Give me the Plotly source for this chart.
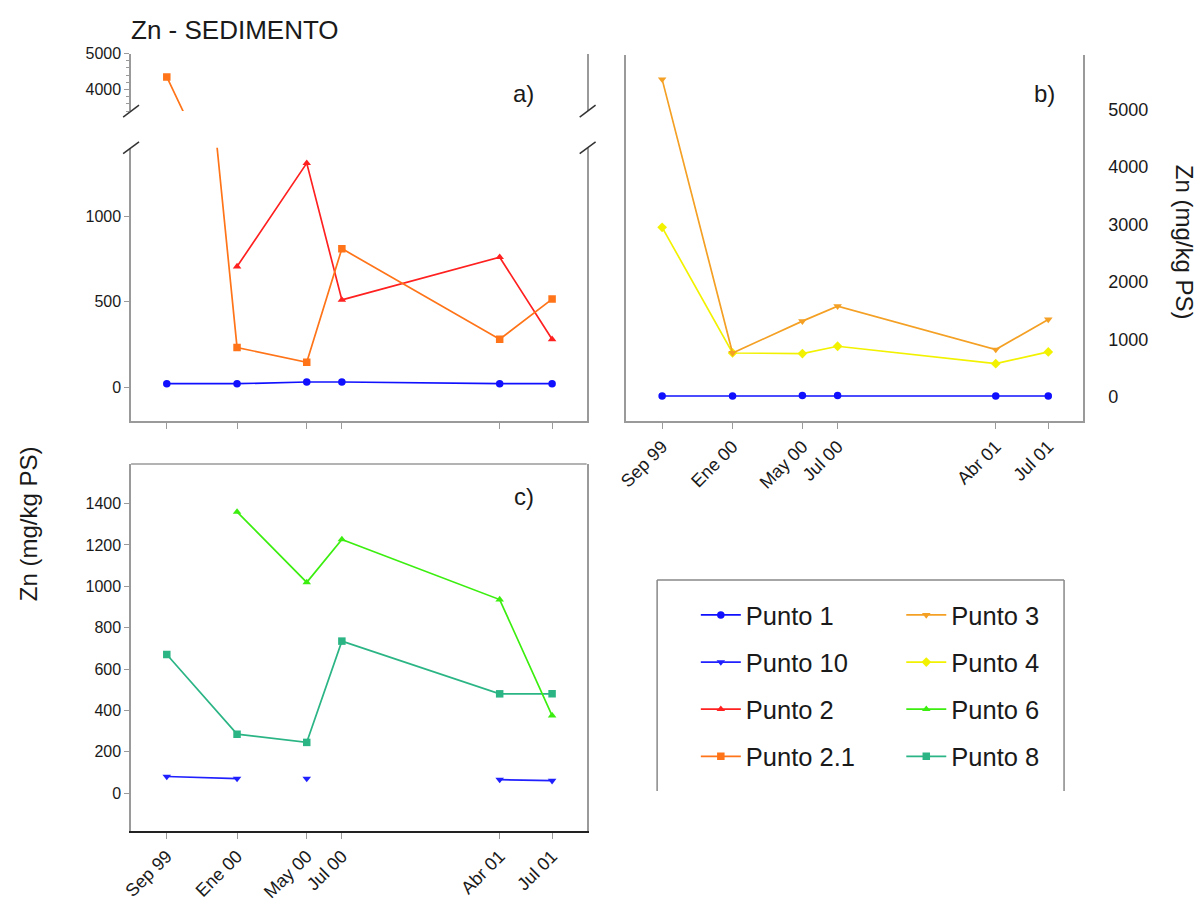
import plotly.graph_objects as go

# Sampling dates and their labels
dates = ["1999-09-01", "2000-01-01", "2000-05-01", "2000-07-01", "2001-04-01", "2001-07-01"]
date_labels = ["Sep 99", "Ene 00", "May 00", "Jul 00", "Abr 01", "Jul 01"]

# Zn in sediment (mg/kg PS) per sampling point
punto_1 = [20, 20, 30, 30, 20, 20]
punto_2 = [None, 705, 1310, 510, 760, 280]
punto_2_1 = [4350, 232, 145, 810, 280, 515]
punto_3 = [5520, 767, 1320, 1580, 826, 1350]
punto_4 = [2950, 767, 756, 884, 581, 785]
punto_6 = [None, 1360, 1019, 1227, 936, 375]
punto_8 = [670, 285, 245, 735, 480, 480]
punto_10 = [80, 70, 70, None, 65, 60]
punto_10_joined = [True, False, False, False, True]

W, H = 1204, 907
FONT = "Arial, Liberation Sans, sans-serif"
AXIS_GREY = "#9a9a9a"
TEXT = "#1a1a1a"


def px(x):
    return x / W


def py(y):
    return 1 - y / H


colors = {
    "p1": "#1010ff",
    "p10": "#2020ff",
    "p2": "#ff2020",
    "p21": "#ff7418",
    "p3": "#f4a024",
    "p4": "#f2f200",
    "p6": "#3cee10",
    "p8": "#2bb585",
}
symbols = {
    "p1": "circle", "p10": "triangle-down", "p2": "triangle-up", "p21": "square",
    "p3": "triangle-down", "p4": "diamond", "p6": "triangle-up", "p8": "square",
}


def series(name, key, y, xa, ya, x=dates):
    return go.Scatter(
        x=x, y=y, name=name, mode="lines+markers",
        line=dict(color=colors[key], width=1.7),
        marker=dict(symbol=symbols[key], size=7.5, color=colors[key]),
        xaxis=xa, yaxis=ya, showlegend=False, connectgaps=False,
    )


# Punto 10 line is only joined between selected consecutive samples
p10_x, p10_y = [], []
for i, d in enumerate(dates):
    p10_x.append(d)
    p10_y.append(punto_10[i])
    if i < len(dates) - 1 and not punto_10_joined[i]:
        p10_x.append(d)
        p10_y.append(None)

fig = go.Figure()

# Panel a (lower and upper parts of the broken axis)
fig.add_trace(series("Punto 1", "p1", punto_1, "x", "y"))
fig.add_trace(series("Punto 2", "p2", punto_2, "x", "y"))
fig.add_trace(series("Punto 2.1", "p21", punto_2_1, "x", "y"))
fig.add_trace(series("Punto 2.1", "p21", punto_2_1, "x2", "y2"))

# Panel b
fig.add_trace(series("Punto 1", "p1", punto_1, "x3", "y3"))
fig.add_trace(series("Punto 4", "p4", punto_4, "x3", "y3"))
fig.add_trace(series("Punto 3", "p3", punto_3, "x3", "y3"))

# Panel c
fig.add_trace(series("Punto 8", "p8", punto_8, "x4", "y4"))
fig.add_trace(series("Punto 6", "p6", punto_6, "x4", "y4"))
fig.add_trace(series("Punto 10", "p10", p10_y, "x4", "y4", x=p10_x))

# Legend entries in two columns
col1 = [("Punto 1", "p1"), ("Punto 10", "p10"), ("Punto 2", "p2"), ("Punto 2.1", "p21")]
col2 = [("Punto 3", "p3"), ("Punto 4", "p4"), ("Punto 6", "p6"), ("Punto 8", "p8")]
for lg, col in (("legend", col1), ("legend2", col2)):
    for name, key in col:
        fig.add_trace(go.Scatter(
            x=[None], y=[None], name=name, mode="lines+markers",
            line=dict(color=colors[key], width=1.7),
            marker=dict(symbol=symbols[key], size=7.5, color=colors[key]),
            xaxis="x4", yaxis="y4", legend=lg, legendgroup=name, showlegend=True,
        ))

x_range = ["1999-07-01", "2001-08-30"]
ytick_font = dict(family=FONT, size=16, color=TEXT)
xtick_font = dict(family=FONT, size=18, color=TEXT)

xa_common = dict(
    type="date", range=x_range, tickmode="array", tickvals=dates,
    showgrid=False, zeroline=False, ticks="outside", ticklen=6,
    tickcolor=AXIS_GREY, tickfont=xtick_font, showline=True,
    linecolor=AXIS_GREY, linewidth=1.5,
)
ya_common = dict(
    showgrid=False, zeroline=False, ticks="outside", ticklen=5,
    tickcolor=AXIS_GREY, tickfont=ytick_font, showline=True,
    linecolor=AXIS_GREY, linewidth=1.5, mirror=True,
)

A_X = [px(123), px(582)]
B_X = [px(622), px(1082)]
legend_common = dict(
    xanchor="left", yanchor="top", bgcolor="rgba(0,0,0,0)",
    font=dict(family=FONT, size=25.5, color=TEXT), tracegroupgap=11, itemwidth=40,
)

fig.update_layout(
    width=W, height=H,
    margin=dict(l=0, r=0, t=0, b=0),
    paper_bgcolor="white", plot_bgcolor="white",
    font=dict(family=FONT, color=TEXT),
    xaxis=dict(xa_common, domain=A_X, anchor="y", showticklabels=False),
    yaxis=dict(ya_common, domain=[py(417), py(141)], anchor="x",
               range=[-200, 1400], tickvals=[0, 500, 1000]),
    xaxis2=dict(domain=A_X, anchor="y2", matches="x", type="date", range=x_range,
                visible=False),
    yaxis2=dict(ya_common, domain=[py(104), py(46)], anchor="x2",
                range=[3400, 5000], tickvals=[4000, 5000],
                minor=dict(dtick=200, ticks="outside", ticklen=3, tickcolor=AXIS_GREY)),
    xaxis3=dict(xa_common, domain=B_X, anchor="y3", ticktext=date_labels, tickangle=-45),
    yaxis3=dict(ya_common, domain=[py(417), py(47)], anchor="x3", side="right",
                range=[-420, 5950], tickvals=[0, 1000, 2000, 3000, 4000, 5000],
                ticks="", ticklabelstandoff=20,
                tickfont=dict(family=FONT, size=18, color=TEXT)),
    xaxis4=dict(xa_common, domain=A_X, anchor="y4", ticktext=date_labels, tickangle=-45,
                linecolor="#222222", linewidth=2, mirror=False),
    yaxis4=dict(ya_common, domain=[py(830), py(460)], anchor="x4",
                range=[-182, 1592], tickvals=list(range(0, 1401, 200))),
    legend=dict(legend_common, x=px(692), y=py(589)),
    legend2=dict(legend_common, x=px(899), y=py(589)),
)

# Top border of panel c
fig.add_shape(type="line", xref="paper", yref="paper",
              x0=px(123), x1=px(582), y0=py(460), y1=py(460),
              line=dict(color=AXIS_GREY, width=1.5))

# Axis break marks on panel a
for bx in (123, 583):
    for by in (104, 141):
        fig.add_shape(type="line", xref="paper", yref="paper",
                      x0=px(bx - 8), x1=px(bx + 8), y0=py(by + 6), y1=py(by - 6),
                      line=dict(color="#333333", width=1.5))

# Legend frame (top, left and right sides)
for x0, y0, x1, y1 in ((653, 577, 1063, 577), (653, 577, 653, 790), (1063, 577, 1063, 790)):
    fig.add_shape(type="line", xref="paper", yref="paper",
                  x0=px(x0), x1=px(x1), y0=py(y0), y1=py(y1),
                  line=dict(color="#888888", width=1.5))

# Titles and panel labels
fig.add_annotation(text="Zn - SEDIMENTO", xref="paper", yref="paper",
                   x=px(121), y=py(22), xanchor="left", yanchor="middle",
                   showarrow=False, font=dict(family=FONT, size=26, color=TEXT))
fig.add_annotation(text="Zn (mg/kg PS)", xref="paper", yref="paper",
                   x=px(20), y=py(520), textangle=-90, showarrow=False,
                   xanchor="center", yanchor="middle",
                   font=dict(family=FONT, size=24, color=TEXT))
fig.add_annotation(text="Zn (mg/kg PS)", xref="paper", yref="paper",
                   x=px(1184), y=py(236), textangle=90, showarrow=False,
                   xanchor="center", yanchor="middle",
                   font=dict(family=FONT, size=24, color=TEXT))
for label, lx, ly in (("a)", 531, 86), ("b)", 1056, 86), ("c)", 531, 493)):
    fig.add_annotation(text=label, xref="paper", yref="paper",
                       x=px(lx), y=py(ly), xanchor="right", yanchor="middle",
                       showarrow=False, font=dict(family=FONT, size=24, color=TEXT))

fig.write_html("out.html")
